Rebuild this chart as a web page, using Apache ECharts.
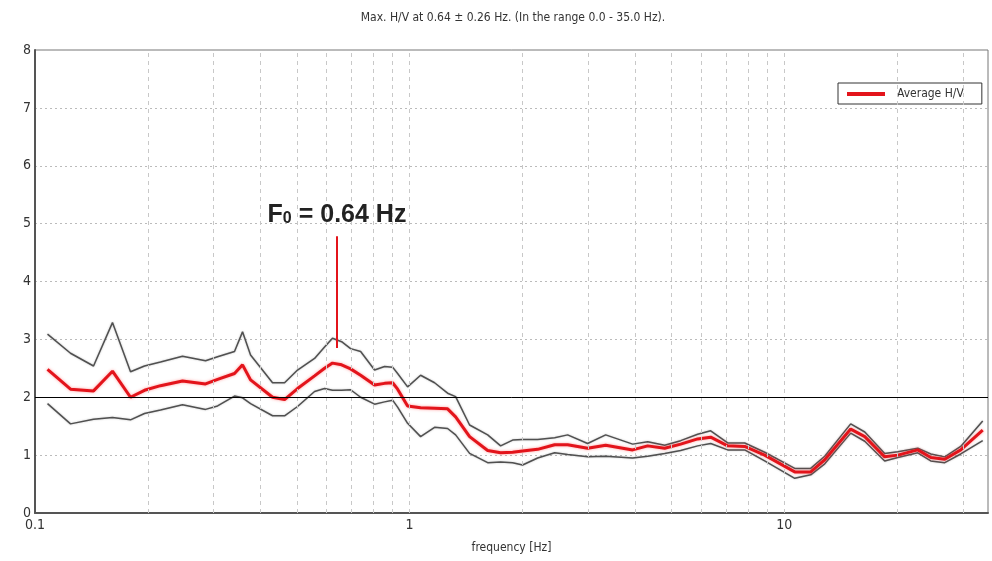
<!DOCTYPE html>
<html>
<head>
<meta charset="utf-8">
<script src="https://cdn.jsdelivr.net/npm/echarts@6/dist/echarts.min.js"></script>
<style>
html,body{margin:0;padding:0;background:#fff;}
#chart{width:992px;height:561px;}
</style>
</head>
<body>
<div id="chart"></div>
<script>
// ---- data ----
var freqs = [0.108,0.1244,0.1433,0.161,0.1799,0.196,0.2163,0.2476,0.2853,0.3072,0.3409,0.3581,0.3762,0.4307,0.4637,0.5022,0.5576,0.5929,0.6226,0.6584,0.6958,0.7401,0.8064,0.8574,0.9008,0.929,0.9878,1.07,1.166,1.263,1.327,1.446,1.616,1.75,1.884,2.003,2.197,2.439,2.642,2.987,3.338,3.94,4.32,4.797,5.292,5.875,6.365,7.066,7.845,8.868,10.67,11.77,12.83,15.05,16.41,18.55,20.1,22.73,24.62,26.83,29.6,33.88];
var upperHV = [3.09,2.76,2.54,3.29,2.44,2.54,2.61,2.71,2.63,2.70,2.79,3.13,2.73,2.25,2.25,2.47,2.67,2.87,3.02,2.96,2.84,2.79,2.47,2.53,2.52,2.41,2.18,2.38,2.25,2.07,2.01,1.52,1.35,1.16,1.26,1.27,1.27,1.30,1.35,1.20,1.35,1.19,1.23,1.17,1.25,1.36,1.42,1.21,1.21,1.05,0.77,0.77,0.98,1.54,1.40,1.03,1.06,1.12,1.02,0.97,1.15,1.59];
var avgHV   = [2.48,2.14,2.11,2.45,2.00,2.12,2.20,2.28,2.23,2.31,2.41,2.56,2.30,2.00,1.96,2.15,2.37,2.50,2.59,2.56,2.49,2.38,2.21,2.24,2.25,2.14,1.85,1.82,1.81,1.80,1.66,1.32,1.08,1.04,1.05,1.07,1.10,1.18,1.18,1.12,1.17,1.09,1.16,1.12,1.19,1.28,1.31,1.16,1.15,1.00,0.71,0.71,0.92,1.45,1.32,0.97,1.00,1.09,0.96,0.93,1.09,1.43];
var lowerHV = [1.89,1.54,1.62,1.65,1.61,1.72,1.78,1.87,1.79,1.85,2.02,1.99,1.89,1.68,1.68,1.84,2.10,2.15,2.12,2.12,2.13,2.00,1.88,1.92,1.95,1.83,1.55,1.32,1.48,1.46,1.35,1.03,0.87,0.88,0.87,0.83,0.95,1.04,1.01,0.97,0.98,0.95,0.98,1.03,1.08,1.16,1.20,1.09,1.09,0.90,0.60,0.66,0.85,1.38,1.24,0.90,0.96,1.04,0.90,0.87,1.02,1.25];
var gridFreqs = [0.2,0.3,0.4,0.5,0.6,0.7,0.8,0.9,1,2,3,4,5,6,7,8,9,10,20,30];
var xLabelFreqs = [0.1,1,10];
var refLevel = 2;
var f0 = 0.64;
var f0LineRange = [2.85, 4.78];
var f0LabelLevel = 5.18;
var titleText = 'Max. H/V at 0.64 \u00b1 0.26 Hz. (In the range 0.0 - 35.0 Hz).';

function pairs(vals){ return freqs.map(function(f,i){ return [f, vals[i]]; }); }
var NARROW = "'Liberation Sans Narrow','Arial Narrow','DejaVu Sans Condensed',sans-serif";

var chart = echarts.init(document.getElementById('chart'), null, {renderer:'canvas'});
chart.setOption({
  animation: false,
  backgroundColor: '#ffffff',
  title: {
    text: titleText, left: 508, top: 7, textAlign: 'center',
    textStyle: {fontFamily: NARROW, fontSize: 12, fontWeight: 'normal', color: '#333'}
  },
  legend: {
    data: ['Average H/V'],
    left: 838, top: 83,
    backgroundColor: '#fff', borderColor: '#333', borderWidth: 1,
    padding: [5, 18, 4, 9],
    itemWidth: 38, itemHeight: 4, icon: 'rect',
    textStyle: {fontFamily: NARROW, fontSize: 12, color: '#333', padding: [0,0,0,7]}
  },
  grid: {left: 35, right: 4, top: 50, bottom: 48, show: true, borderColor: '#777', borderWidth: 1, backgroundColor: '#fff'},
  xAxis: {
    type: 'log', logBase: 10, min: 0.1, max: 35,
    name: 'frequency [Hz]', nameLocation: 'middle', nameGap: 29,
    nameTextStyle: {fontFamily: NARROW, fontSize: 12, color: '#333'},
    axisLine: {show: true, lineStyle: {color: '#555', width: 2}},
    axisTick: {show: false},
    splitLine: {show: false},
    axisLabel: {
      margin: 5, fontFamily: NARROW, fontSize: 14, color: '#333', showMaxLabel: false,
      formatter: function(v){
        for (var i=0;i<xLabelFreqs.length;i++){ if (Math.abs(v - xLabelFreqs[i]) < 1e-6*xLabelFreqs[i]) return String(xLabelFreqs[i]); }
        return '';
      }
    }
  },
  yAxis: {
    type: 'value', min: 0, max: 8, interval: 1,
    axisLine: {show: true, lineStyle: {color: '#555', width: 2}},
    axisTick: {show: false},
    axisLabel: {margin: 4, fontFamily: NARROW, fontSize: 14, color: '#333'},
    splitLine: {show: true, lineStyle: {color: '#bbb', type: [2, 3], width: 1}}
  },
  series: [
    {
      name: 'grid', type: 'line', data: [], z: 1, silent: true,
      markLine: {
        silent: true, symbol: 'none', label: {show: false}, animation: false,
        lineStyle: {color: '#c8c8c8', type: [4, 4], width: 1},
        data: gridFreqs.map(function(f){ return {xAxis: f}; }).concat([
          {yAxis: refLevel, lineStyle: {color: '#000', type: 'solid', width: 1}}
        ])
      }
    },
    {
      name: 'upper', type: 'line', data: pairs(upperHV), symbol: 'none', z: 3,
      lineStyle: {color: '#505050', width: 1.5, shadowColor: 'rgba(0,0,0,0.25)', shadowBlur: 2}
    },
    {
      name: 'lower', type: 'line', data: pairs(lowerHV), symbol: 'none', z: 3,
      lineStyle: {color: '#505050', width: 1.5, shadowColor: 'rgba(0,0,0,0.25)', shadowBlur: 2}
    },
    {
      name: 'Average H/V', type: 'line', data: pairs(avgHV), symbol: 'none', z: 4,
      itemStyle: {color: '#e3141b'},
      lineStyle: {color: '#e3141b', width: 3, shadowColor: 'rgba(255,60,60,0.5)', shadowBlur: 3},
      markLine: {
        silent: true, symbol: 'none', label: {show: false}, animation: false,
        lineStyle: {color: '#e3141b', type: 'solid', width: 2},
        data: [[{coord: [f0, f0LineRange[0]]}, {coord: [f0, f0LineRange[1]]}]]
      },
      markPoint: {
        silent: true, symbol: 'circle', symbolSize: 1, itemStyle: {color: 'rgba(0,0,0,0)'},
        data: [{coord: [f0, f0LabelLevel]}],
        label: {
          show: true, position: 'inside',
          formatter: '{a|F}{b|0}{a| = 0.64 Hz}',
          rich: {
            a: {fontFamily: "'Liberation Sans',Arial,sans-serif", fontWeight: 'bold', fontSize: 25, color: '#222', lineHeight: 28, verticalAlign: 'bottom'},
            b: {fontFamily: "'Liberation Sans',Arial,sans-serif", fontWeight: 'bold', fontSize: 16, color: '#222', lineHeight: 28, verticalAlign: 'bottom', padding: [0,0,1,0]}
          }
        }
      }
    }
  ]
});
</script>
</body>
</html>
